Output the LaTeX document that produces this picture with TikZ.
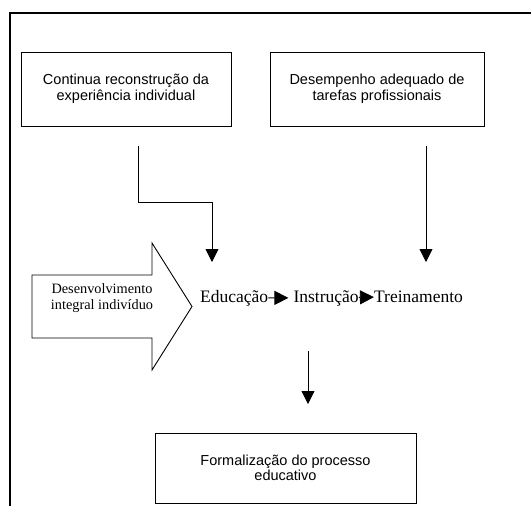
\documentclass[tikz,border=0pt]{standalone}
\usepackage{fontspec}
\setmainfont{Liberation Serif}
\setsansfont{Liberation Sans}
\usetikzlibrary{arrows.meta,positioning}

\begin{document}
\begin{tikzpicture}[x=1pt,y=-1pt,
	caixa/.style={draw,line width=0.9pt,align=center,inner sep=0pt,
		font=\sffamily\fontsize{14.5}{15.5}\selectfont},
	fluxo/.style={inner sep=0pt,font=\fontsize{17.5}{20}\selectfont},
	seta/.style={line width=0.8pt,-{Triangle[width=13pt,length=13pt]}},
	setinha/.style={line width=0.8pt,-{Triangle[width=14pt,length=14pt]}}]

\useasboundingbox (0,0) rectangle (531,506);

% moldura
\draw[line width=1.5pt] (10,506) -- (10,13) -- (531,13);

\begin{scope}

\node[caixa,minimum width=210pt,minimum height=74pt] (exper) at (126,89)
	{Continua reconstrução da\\experiência individual};
\node[caixa,minimum width=214pt,minimum height=74pt] (tarefas) at (377,89)
	{Desempenho adequado de\\tarefas profissionais};
\node[caixa,minimum width=261pt,minimum height=70pt] (formal) at (285.5,468)
	{Formalização do processo\\educativo};

\end{scope}

% linha principal
\node[fluxo,anchor=base west] (educ) at (200,302) {Educação};
\node[fluxo,base right=25pt of educ] (instr) {Instrução};
\node[fluxo,base right=15pt of instr] (trein) {Treinamento};
\draw[setinha,shorten >=5pt] (educ) -- (instr);
\draw[setinha] (instr) -- (trein);

% seta larga
\draw[line width=0.9pt] (32,275) -- (152,275) -- (152,243) -- (192,306.5)
	-- (152,370) -- (152,338) -- (32,338) -- cycle;
\node[align=center,inner sep=0pt,font=\fontsize{14.3}{16}\selectfont] (desenv) at (102,298)
	{Desenvolvimento\\integral indivíduo};

\coordinate (c1) at (138,146);
\coordinate (c2) at (212,262);
\coordinate (c3) at (426,146);
\coordinate (c4) at (426,262);
\coordinate (c5) at (308,351);
\coordinate (c6) at (308,404);

\draw[seta] (c1) -- (c1 |- 0,202) -| (c2);
\draw[seta] (c3) -- (c4);
\draw[seta] (c5) -- (c6);

\end{tikzpicture}
\end{document}
